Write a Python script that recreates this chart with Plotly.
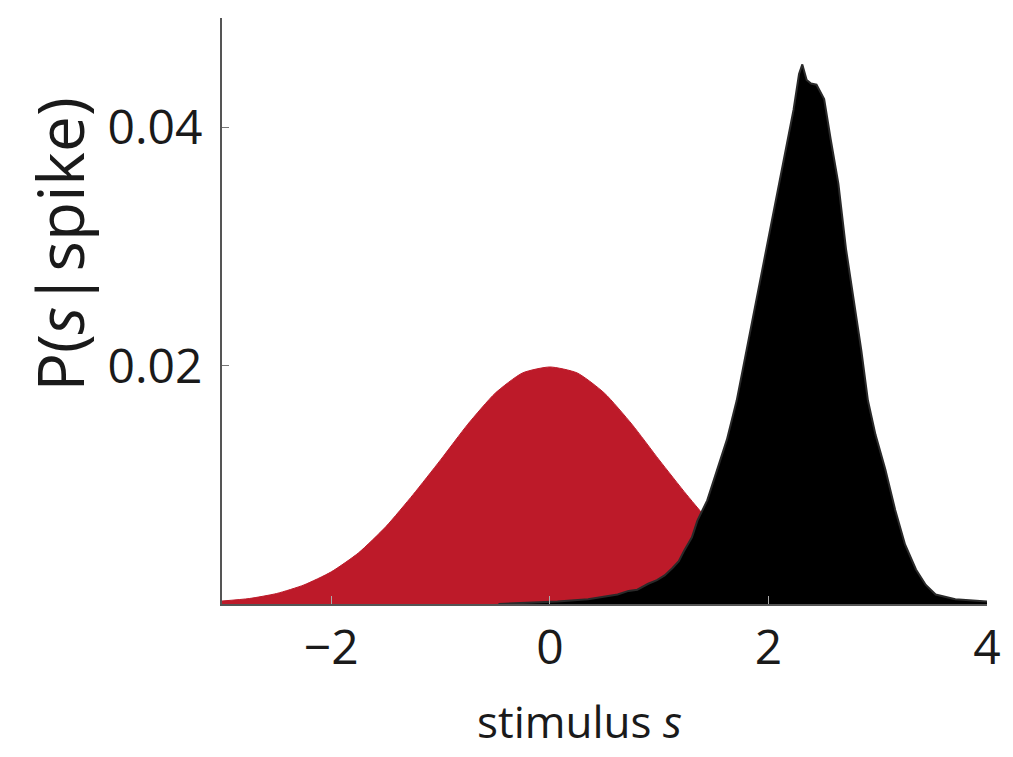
import plotly.graph_objects as go

# Red: prior stimulus distribution P(s)
red_x = [-3.0, -2.75, -2.5, -2.25, -2.0, -1.75, -1.5, -1.25, -1.0, -0.75, -0.5, -0.25, 0.0,
         0.25, 0.5, 0.75, 1.0, 1.25, 1.5, 1.75, 2.0, 2.25, 2.5, 2.75, 3.0, 3.5, 4.0]
red_y = [0.00025, 0.00046, 0.00088, 0.0016, 0.0027, 0.0043, 0.0065, 0.0092, 0.0121, 0.0151, 0.0177, 0.0194, 0.0199,
         0.0194, 0.0177, 0.0151, 0.0121, 0.0092, 0.0065, 0.0043, 0.0027, 0.0016, 0.00088, 0.00046, 0.00022, 0.00005, 0.0]

# Black: spike-triggered distribution P(s|spike)
blk_x = [-0.47, -0.2, 0.07, 0.35, 0.5, 0.62, 0.72, 0.8, 0.9, 0.98, 1.05, 1.12, 1.18, 1.23, 1.3, 1.35, 1.44,
         1.53, 1.62, 1.71, 1.8, 1.89, 1.98, 2.07, 2.16, 2.23, 2.28, 2.31, 2.35, 2.39, 2.44, 2.51,
         2.57, 2.64, 2.71, 2.78, 2.85, 2.91, 2.98, 3.07, 3.16, 3.25, 3.35, 3.44, 3.53, 3.71, 3.85, 4.0]
blk_y = [0.0, 0.0001, 0.0002, 0.0004, 0.0006, 0.0008, 0.0011, 0.0012, 0.0017, 0.0020, 0.0024, 0.0030, 0.0036, 0.0045, 0.0056, 0.0070, 0.0087,
         0.0113, 0.0138, 0.0171, 0.0213, 0.0255, 0.0297, 0.0339, 0.0381, 0.0415, 0.0445, 0.0453, 0.0440, 0.0437, 0.0436, 0.0424,
         0.0390, 0.0353, 0.0298, 0.0256, 0.0213, 0.0171, 0.0142, 0.0113, 0.0079, 0.0050, 0.0029, 0.0016, 0.0008, 0.0004, 0.0003, 0.0002]

x_ticks = [-2, 0, 2, 4]
x_tick_text = ["\u22122", "0", "2", "4"]
y_ticks = [0.02, 0.04]
y_tick_text = ["0.02", "0.04"]

FONT = "Open Sans"
TXT = "#1a1a1a"

fig = go.Figure()
fig.add_trace(go.Scatter(x=red_x, y=red_y, mode="lines", fill="tozeroy",
                         line=dict(color="#bd1a29", width=1, shape="spline", smoothing=0.6),
                         fillcolor="#bd1a29", hoverinfo="skip"))
fig.add_trace(go.Scatter(x=blk_x, y=blk_y, mode="lines", fill="tozeroy",
                         line=dict(color="#2a2a2a", width=2),
                         fillcolor="#000000", hoverinfo="skip"))

fig.update_layout(
    width=1013, height=757,
    margin=dict(l=222, r=20, t=18, b=153),
    paper_bgcolor="white", plot_bgcolor="white",
    showlegend=False,
    font=dict(family=FONT, color=TXT),
    xaxis=dict(range=[-3, 4], tickvals=x_ticks, ticktext=x_tick_text,
               showgrid=False, zeroline=False, showline=True, linecolor="#555", linewidth=2,
               ticks="inside", ticklen=8, tickcolor="#aaa", tickwidth=1,
               tickfont=dict(size=48, family=FONT, color=TXT), ticklabelstandoff=0),
    yaxis=dict(range=[0, 0.0492], tickvals=y_ticks, ticktext=y_tick_text,
               showgrid=False, zeroline=False, showline=True, linecolor="#555", linewidth=2,
               ticks="inside", ticklen=7, tickcolor="#777", tickwidth=1,
               tickfont=dict(size=48, family=FONT, color=TXT), ticklabelstandoff=8),
    annotations=[
        dict(text="stimulus <i>s</i>", xref="paper", yref="paper", x=0.467, y=-0.2,
             showarrow=False, font=dict(size=44, family=FONT, color=TXT),
             xanchor="center", yanchor="middle"),
        dict(text="P(<i>s</i>|spike)", xref="paper", yref="paper", x=-0.212, y=0.613,
             showarrow=False, textangle=-90, font=dict(size=64, family=FONT, color=TXT),
             xanchor="center", yanchor="middle"),
    ],
)

fig.write_html("out.html")
